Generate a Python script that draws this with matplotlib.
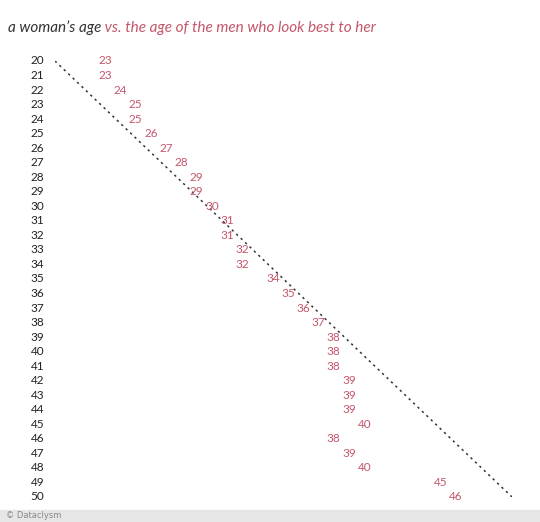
import matplotlib
matplotlib.use("Agg")
import matplotlib.pyplot as plt

women_ages = list(range(20, 51))
men_ages = [23, 23, 24, 25, 25, 26, 27, 28, 29, 29, 30, 31, 31, 32, 32, 34, 35, 36, 37,
            38, 38, 38, 39, 39, 39, 40, 38, 39, 40, 45, 46]

pink = "#c4566a"
fig = plt.figure(figsize=(5.4, 5.22), dpi=100)
fig.patch.set_facecolor("white")
ax = fig.add_axes([55/540, 25/522, 457/540, 436/522])
ax.set_xlim(20, 50)
ax.set_ylim(50, 20)
ax.axis("off")
ax.plot([20, 50], [20, 50], linestyle=(0, (1.5, 2.5)), color="#333333", lw=1.1)
for w, m in zip(women_ages, men_ages):
    ax.text(m + 0.3, w, str(m), color=pink, fontsize=8.5, ha="center", va="center", family="Lato")
    ax.text(19.3, w, str(w), color="#222222", fontsize=8.5, ha="right", va="center", family="Lato")

t1 = fig.text(8/540, 1 - 28/522, "a woman\u2019s age", fontsize=11, style="italic", color="#333333",
              family="Lato", va="center")
fig.canvas.draw()
fig.text(0, 0, "", alpha=0)
ann = plt.annotate(" vs. the age of the men who look best to her", xy=(1, 0.5), xycoords=t1,
                   va="center", ha="left", fontsize=11, style="italic", color=pink, family="Lato",
                   annotation_clip=False)
fig.patches.append(plt.Rectangle((0, 0), 1, 12/522, transform=fig.transFigure, color="#e6e6e6", zorder=0))
fig.text(6/540, 6/522, "\u00a9 Dataclysm", fontsize=6, color="#888888", va="center", family="DejaVu Sans")
fig.savefig("out.png", dpi=100)
